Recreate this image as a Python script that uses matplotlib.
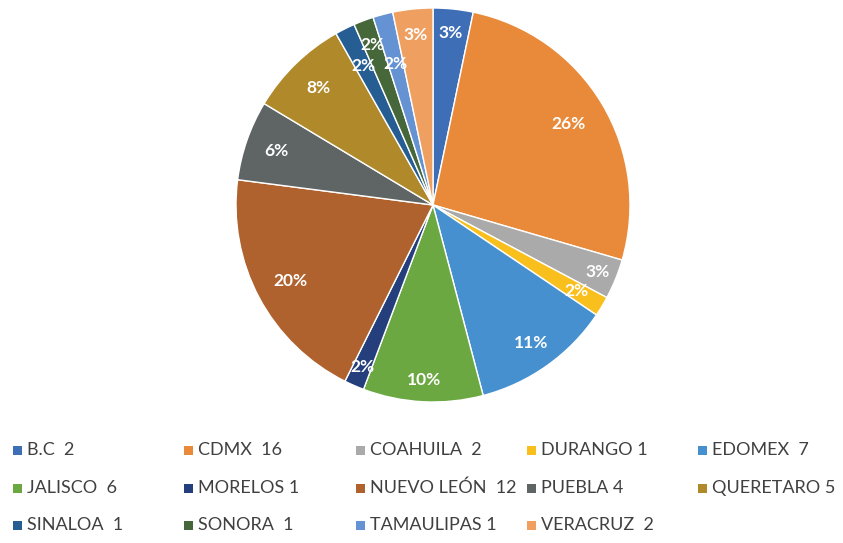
import matplotlib
matplotlib.use("Agg")
import matplotlib.pyplot as plt
from matplotlib.patches import Rectangle
import numpy as np

states = ["B.C", "CDMX", "COAHUILA", "DURANGO", "EDOMEX", "JALISCO", "MORELOS",
          "NUEVO LEÓN", "PUEBLA", "QUERETARO", "SINALOA", "SONORA", "TAMAULIPAS", "VERACRUZ"]
counts = [2, 16, 2, 1, 7, 6, 1, 12, 4, 5, 1, 1, 1, 2]
pct_labels = ["3%", "26%", "3%", "2%", "11%", "10%", "2%", "20%", "6%", "8%", "2%", "2%", "2%", "3%"]
legend_labels = ["B.C  2", "CDMX  16", "COAHUILA  2", "DURANGO 1", "EDOMEX  7",
                 "JALISCO  6", "MORELOS 1", "NUEVO LEÓN  12", "PUEBLA 4", "QUERETARO 5",
                 "SINALOA  1", "SONORA  1", "TAMAULIPAS 1", "VERACRUZ  2"]

colors = ["#3E6EB6", "#E98A3A", "#AAAAAA", "#F9BF1C", "#4790D0", "#6CA842", "#253F7C",
          "#AF622D", "#5F6464", "#B08A2A", "#265D93", "#45673A", "#6592D2", "#EFA060"]
label_dist = [0.88, 0.80, 0.90, 0.85, 0.86, 0.89, 0.90, 0.82, 0.84, 0.83, 0.79, 0.87, 0.74, 0.87]

plt.rcParams['font.family'] = ['Lato', 'DejaVu Sans']

fig = plt.figure(figsize=(8.43, 5.43), dpi=100)
W, H = 843, 543
cx, cy, r = 433, 205, 197
ax = fig.add_axes([(cx - r) / W, 1 - (cy + r) / H, 2 * r / W, 2 * r / H])

wedges, _ = ax.pie(counts, colors=colors, startangle=90, counterclock=False,
                   wedgeprops=dict(edgecolor="white", linewidth=1.0), radius=1.0)
for w, lab, d in zip(wedges, pct_labels, label_dist):
    ang = np.deg2rad((w.theta1 + w.theta2) / 2)
    ax.text(d * np.cos(ang), d * np.sin(ang), lab, ha="center", va="center",
            color="white", fontsize=12.5, fontweight="bold")
ax.set_xlim(-1, 1)
ax.set_ylim(-1, 1)
ax.set_aspect("equal")
ax.axis("off")

col_x = [13, 184, 356, 527, 698]
row_y = [450, 488, 525]
for i, (lab, c) in enumerate(zip(legend_labels, colors)):
    row, col = divmod(i, 5)
    x, y = col_x[col], row_y[row]
    fig.patches.append(Rectangle((x / W, 1 - (y + 4.5) / H), 9 / W, 9 / H,
                                 transform=fig.transFigure, facecolor=c, edgecolor="none"))
    fig.text((x + 14) / W, 1 - y / H, lab, ha="left", va="center",
             fontsize=13, color="#404040")

fig.savefig("out.png", dpi=100)
